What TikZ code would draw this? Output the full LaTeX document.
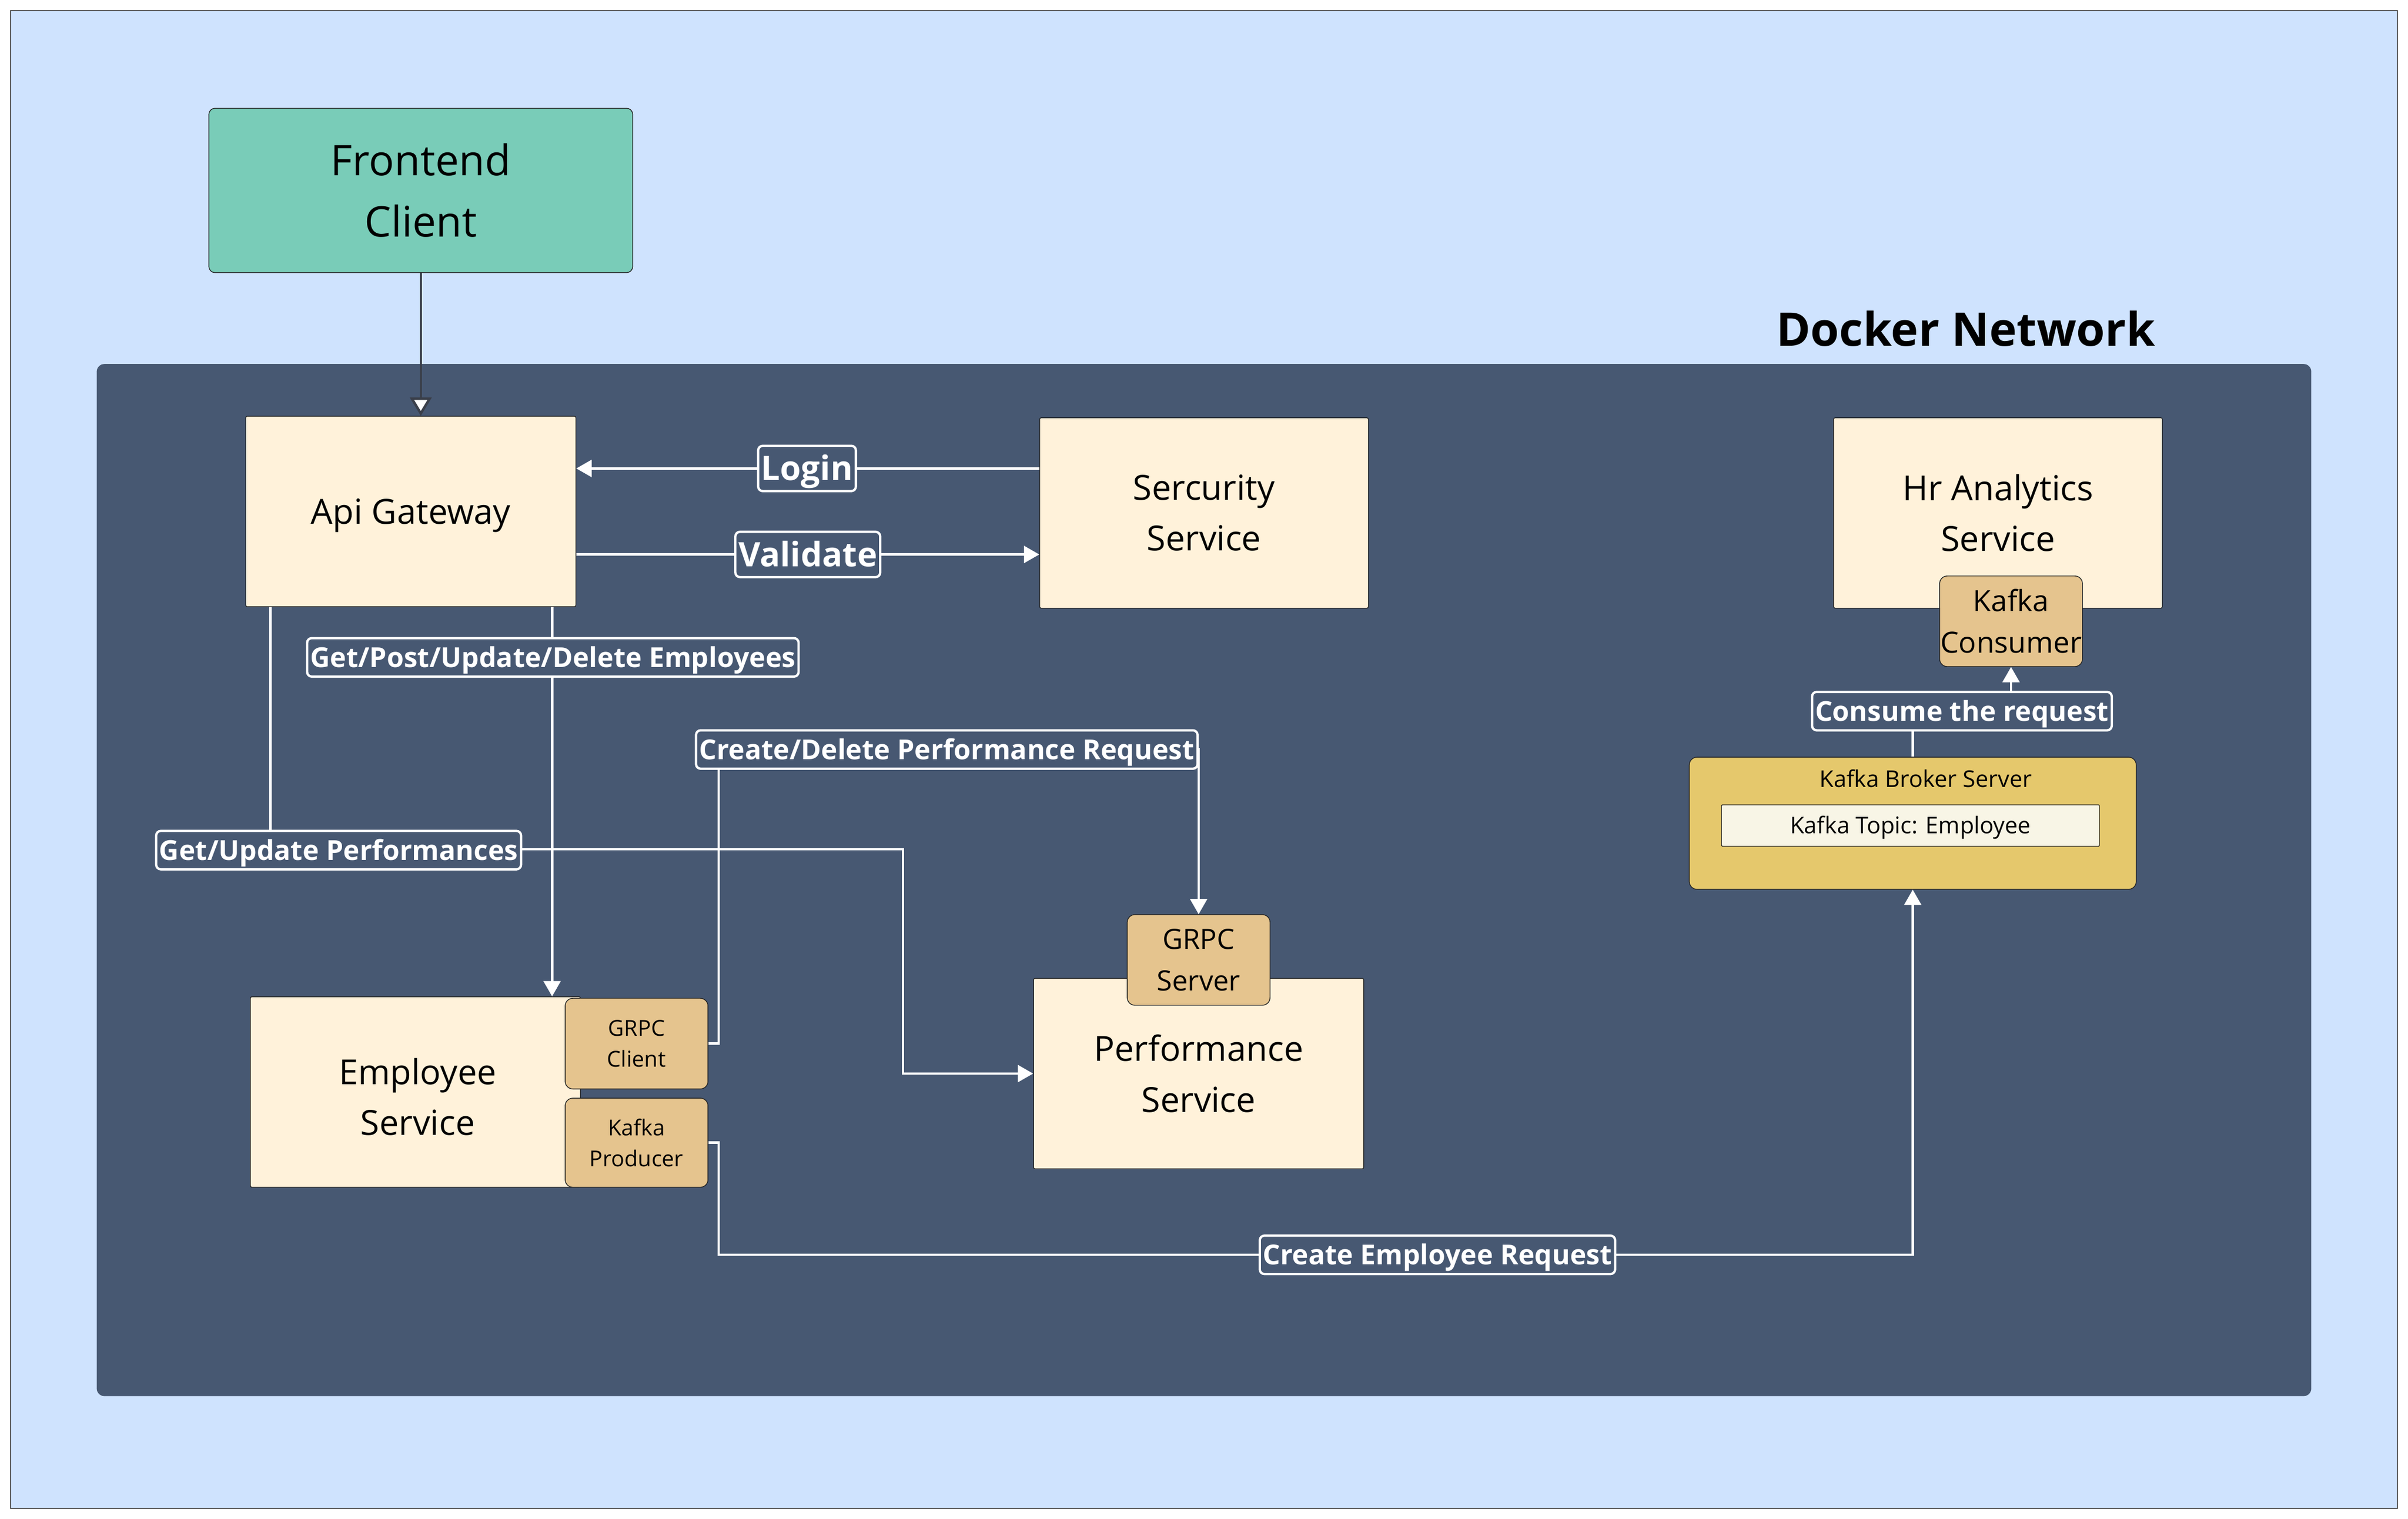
\documentclass[tikz,border=0pt]{standalone}
\usepackage{fontspec}
\setmainfont{Open Sans}
\usetikzlibrary{arrows.meta}
\definecolor{bgblue}{RGB}{207,227,254}
\definecolor{netblue}{RGB}{71,88,114}
\definecolor{cream}{RGB}{255,242,218}
\definecolor{tan}{RGB}{229,196,142}
\definecolor{brokeryel}{RGB}{229,200,108}
\definecolor{topicbg}{RGB}{248,245,230}
\definecolor{teal}{RGB}{121,204,184}
\definecolor{darkline}{RGB}{58,63,74}
\begin{document}
\begin{tikzpicture}[x=1pt,y=-1pt,
  box/.style={draw=black!85, line width=0.5pt, inner sep=0pt, align=center, rounded corners=1pt},
  svc/.style={box, fill=cream, minimum width=215pt, minimum height=124pt, font=\fontsize{22.5}{33}\selectfont},
  svctext/.style={inner sep=0pt, align=center, font=\fontsize{22.5}{33}\selectfont},
  part/.style={box, fill=tan, rounded corners=5pt, minimum width=93pt, minimum height=59pt},
  flow/.style={draw=white, line width=1.6pt, -{Triangle[width=11pt,length=10pt]}},
  lbl/.style={fill=netblue, draw=white, line width=1.5pt, rounded corners=3pt, text=white, inner xsep=2pt, inner ysep=0pt, minimum height=25pt, text height=12.8pt, text depth=0pt, font=\bfseries\fontsize{17.9}{20}\selectfont},
  biglbl/.style={lbl, minimum height=29.5pt, text height=15.7pt, font=\bfseries\fontsize{22}{24}\selectfont}
]
\useasboundingbox (0,0) rectangle (1568,988.67);
\fill[white] (0,0) rectangle (1568,988.67);
\draw[fill=bgblue, draw=black!70, line width=0.8pt] (7,7) rectangle (1561,982);
\fill[netblue, rounded corners=5pt] (63,237) rectangle (1505,909);
\node[font=\bfseries\fontsize{30.2}{36}\selectfont] (dn) at (1280,214) {Docker Network};

% nodes
\node[box, fill=teal, rounded corners=4pt, minimum width=276pt, minimum height=107pt, font=\fontsize{27.5}{40}\selectfont] (fe) at (274,124) {Frontend\\Client};
\node[svc, text height=16.1pt, text depth=0pt] (api) at (267.5,333) {Api Gateway};
\node[svc, minimum width=214pt] (sec) at (784,334) {Sercurity\\Service};
\node[svc, minimum width=214pt] (hr) at (1301,334) {Hr Analytics\\Service};
\node[part, font=\fontsize{19}{27}\selectfont] (kc) at (1309.5,404.5) {Kafka\\Consumer};
\node[box, fill=brokeryel, rounded corners=5pt, minimum width=291pt, minimum height=86pt] (broker) at (1245.5,536) {};
\node[font=\fontsize{15}{18}\selectfont] (brokerlbl) at (1254,507) {Kafka Broker Server};
\node[box, fill=topicbg, rounded corners=0.5pt, minimum width=246pt, minimum height=27pt, text height=10.7pt, text depth=0pt, font=\fontsize{15}{18}\selectfont] (topic) at (1244,537.5) {Kafka Topic: Employee};
\node[svc] (emp) at (270.5,711) {};
\node[svctext] (emptext) at (272,714) {Employee\\Service};
\node[part, font=\fontsize{14.3}{20}\selectfont] (gc) at (414.5,679.5) {GRPC\\Client};
\node[part, minimum height=58pt, font=\fontsize{14.3}{20}\selectfont] (kp) at (414.5,744) {Kafka\\Producer};
\node[svc] (perf) at (780.5,699) {Performance\\Service};
\node[part, font=\fontsize{18.2}{27}\selectfont] (gs) at (780.5,625) {GRPC\\Server};

% connectors
\draw[darkline, line width=1.6pt, -{Triangle[width=14pt,length=12pt,fill=white]}] (fe.south) -- (fe.south |- api.north);

\coordinate (yl) at (0,305);
\coordinate (yv) at (0,361);
\draw[flow] (sec.west |- yl) -- (api.east |- yl);
\draw[flow] (api.east |- yv) -- (sec.west |- yv);

\coordinate (c4) at (359.5,0);
\draw[flow] (api.south -| c4) -- (emp.north -| c4);

\coordinate (c1) at (176,553);
\coordinate (c2) at (588,553);
\coordinate (c3) at (588,699);
\draw[flow] (api.south -| c1) -- (c1) -- (c2) -- (c3) -- (perf.west);

\coordinate (c5) at (468,488);
\draw[flow] (gc.east) -| (c5) -| (gs.north);

\coordinate (c6) at (468,817);
\draw[flow] (kp.east) -| (c6) -| (broker.south);

\coordinate (c8) at (1245.5,463);
\draw[flow] (broker.north) -- (c8) -| (kc.south);

% labels
\node[biglbl] (l1) at (525.5,305) {Login};
\node[biglbl] (l2) at (526,361) {Validate};
\node[lbl] (l3) at (360,428) {Get/Post/Update/Delete Employees};
\node[lbl] (l4) at (220.5,553.5) {Get/Update Performances};
\node[lbl] (l5) at (616.5,488) {Create/Delete Performance Request};
\node[lbl] (l6) at (936,817) {Create Employee Request};
\node[lbl] (l7) at (1277.5,463) {Consume the request};
\end{tikzpicture}
\end{document}
